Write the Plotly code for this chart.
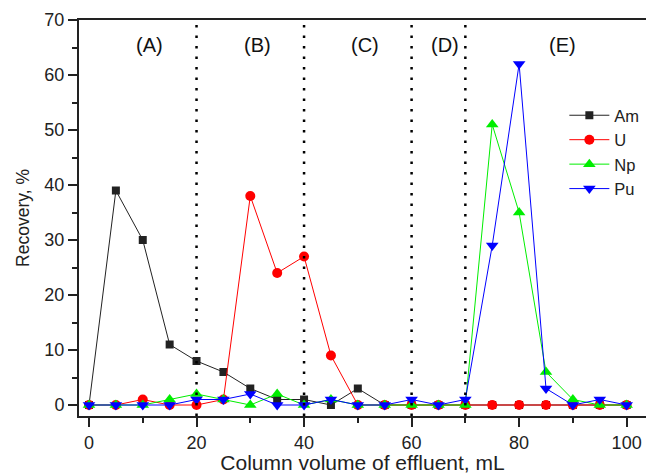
import plotly.graph_objects as go

volume = [0, 5, 10, 15, 20, 25, 30, 35, 40, 45, 50, 55, 60, 65, 70, 75, 80, 85, 90, 95, 100]
am = [0, 39, 30, 11, 8, 6, 3, 1, 1, 0, 3, 0, 0, 0, 0, 0, 0, 0, 0, 0, 0]
u = [0, 0, 1, 0, 0, 1, 38, 24, 27, 9, 0, 0, 0, 0, 0, 0, 0, 0, 0, 0, 0]
np_ = [0, 0, 0, 1, 2, 1, 0, 2, 0, 1, 0, 0, 0, 0, 0, 51, 35, 6, 1, 0, 0]
pu = [0, 0, 0, 0, 1, 1, 2, 0, 0, 1, 0, 0, 1, 0, 1, 29, 62, 3, 0, 1, 0]

region_labels = ["(A)", "(B)", "(C)", "(D)", "(E)"]
region_x = [11.3, 31.4, 51.3, 66.2, 88]
boundaries = [20, 40, 60, 70]

FONT = "Arial, Liberation Sans, sans-serif"

fig = go.Figure()
series = [
    ("Am", am, "#222222", "square", 8),
    ("U", u, "#ff0000", "circle", 10),
    ("Np", np_, "#00ee00", "triangle-up", 11),
    ("Pu", pu, "#0000ff", "triangle-down", 11),
]
for name, vals, col, sym, size in series:
    fig.add_trace(go.Scatter(
        x=volume, y=vals, name=name, mode="lines+markers",
        line=dict(color=col, width=1),
        marker=dict(symbol=sym, size=size, color=col, line=dict(width=0)),
    ))

for b in boundaries:
    fig.add_shape(type="line", x0=b, x1=b, y0=0, y1=1, xref="x", yref="paper",
                  line=dict(color="black", width=2.5, dash="2.5px,8px"))

for lab, xx in zip(region_labels, region_x):
    fig.add_annotation(x=xx, y=65.5, text=lab, showarrow=False,
                       font=dict(family=FONT, size=20, color="#111111"))

fig.update_layout(
    width=646, height=474,
    margin=dict(l=79, r=0, t=20, b=58, autoexpand=False),
    paper_bgcolor="white", plot_bgcolor="white",
    font=dict(family=FONT, size=18, color="#222222"),
    showlegend=True,
    legend=dict(x=0.856, y=0.803, xanchor="left", yanchor="top", itemwidth=40,
                bgcolor="rgba(0,0,0,0)", font=dict(size=16.5), tracegroupgap=0),
    xaxis=dict(range=[-1.86, 103.6], tickmode="linear", tick0=0, dtick=20,
               ticks="outside", ticklen=9, tickwidth=1.5, tickcolor="#222",
               showline=True, linewidth=2, linecolor="#222", mirror=True,
               showgrid=False, zeroline=False, ticklabeloverflow="allow",
               minor=dict(dtick=10, ticks="outside", ticklen=5, tickwidth=1.5, tickcolor="#222"),
               title=dict(text="Column volume of effluent, mL", font=dict(size=21), standoff=4)),
    yaxis=dict(range=[-2, 70], tickmode="linear", tick0=0, dtick=10,
               ticks="outside", ticklen=9, tickwidth=1.5, tickcolor="#222",
               showline=True, linewidth=2, linecolor="#222", mirror=False,
               showgrid=False, zeroline=False, ticklabelstandoff=0,
               minor=dict(dtick=5, ticks="outside", ticklen=5, tickwidth=1.5, tickcolor="#222"),
               title=dict(text="Recovery, %", font=dict(size=17.5), standoff=10)),
)

fig.write_html("out.html", config={"displayModeBar": False},
               post_script="document.body.style.margin='0';document.body.style.overflow='hidden';")
